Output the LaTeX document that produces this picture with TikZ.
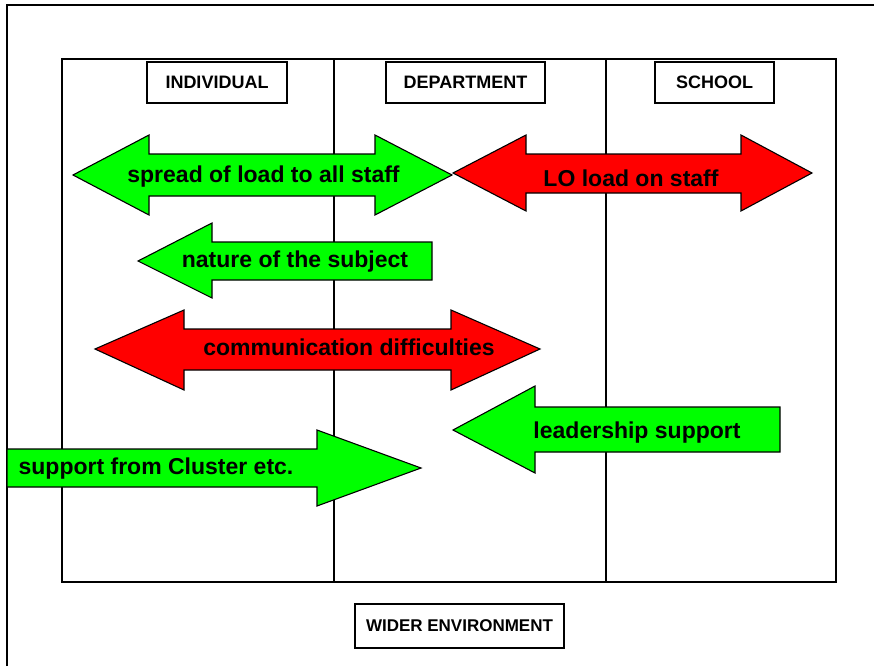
\documentclass[tikz,border=0pt]{standalone}
\usepackage{fontspec}
\setmainfont{Liberation Sans}
\begin{document}
\begin{tikzpicture}[x=1pt,y=-1pt,
  frame/.style={line width=1.3pt,draw=black},
  hdr/.style={draw=black,line width=1.3pt,fill=white,font=\fontsize{18}{20}\selectfont\bfseries,inner sep=0pt},
  garrow/.style={draw=black,line width=1.1pt,fill={rgb,255:red,0;green,255;blue,0},line join=miter},
  rarrow/.style={draw=black,line width=1.1pt,fill={rgb,255:red,255;green,0;blue,0},line join=miter},
  lbl/.style={font=\fontsize{23}{26}\selectfont\bfseries,anchor=base,inner sep=0pt}
]
\useasboundingbox (0,0) rectangle (874,666);
% outer frame
\draw[frame] (7,666) -- (7,5) -- (874,5);
% inner frame and columns
\draw[frame] (62,59) rectangle (836,582);
\draw[frame] (334,59) -- (334,582);
\draw[frame] (606,59) -- (606,582);
% headers
\node[hdr,minimum width=140pt,minimum height=41pt] (ind) at (217,82.5) {INDIVIDUAL};
\node[hdr,minimum width=159pt,minimum height=41pt] (dep) at (465.5,82.5) {DEPARTMENT};
\node[hdr,minimum width=119pt,minimum height=41pt] (sch) at (714.5,82.5) {SCHOOL};
\node[hdr,font=\fontsize{17}{19}\selectfont\bfseries,minimum width=209pt,minimum height=44pt] (wid) at (459.5,626) {WIDER ENVIRONMENT};
% arrows
\draw[garrow] (73,175)--(149,135)--(149,154)--(375,154)--(375,135)--(452,175)--(375,215)--(375,196)--(149,196)--(149,215)--cycle;
\draw[rarrow] (453,173)--(526,135)--(526,154)--(741,154)--(741,135)--(812,173)--(741,211)--(741,193)--(526,193)--(526,211)--cycle;
\draw[garrow] (138,261)--(212,223)--(212,242)--(432,242)--(432,280)--(212,280)--(212,298)--cycle;
\draw[rarrow] (95,349)--(184,310)--(184,329)--(451,329)--(451,310)--(540,349)--(451,390)--(451,370)--(184,370)--(184,390)--cycle;
\draw[garrow] (453,430)--(535,386)--(535,407)--(780,407)--(780,452)--(535,452)--(535,473)--cycle;
\draw[garrow] (7,449)--(317,449)--(317,430)--(421,468)--(317,506)--(317,487)--(7,487)--cycle;
% labels
\node[lbl] (t1) at (263.5,182) {spread of load to all staff};
\node[lbl] (t2) at (631,186) {LO load on staff};
\node[lbl] (t3) at (295,267) {nature of the subject};
\node[lbl] (t4) at (349,355) {communication difficulties};
\node[lbl] (t5) at (637,438) {leadership support};
\node[lbl] (t6) at (156,474) {support from Cluster etc.};
\end{tikzpicture}
\end{document}
